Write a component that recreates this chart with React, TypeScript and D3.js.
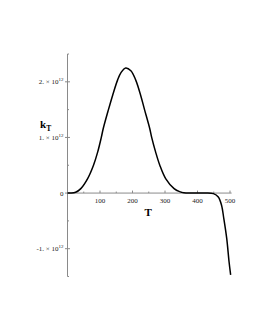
import React from "react";
import * as d3 from "d3";

const T_VALUES = [0, 10, 25, 41, 62, 80, 93, 104, 110, 126, 139, 154, 165, 179, 195, 210, 225, 237, 253, 259, 271, 284, 302, 328, 345, 358, 380, 420, 449, 464, 474, 481, 490, 497, 502];
const K_VALUES = [0, 0, 0.015, 0.08, 0.26, 0.5, 0.74, 1.0, 1.16, 1.5, 1.76, 2.03, 2.17, 2.25, 2.2, 2.03, 1.76, 1.5, 1.16, 1.0, 0.74, 0.5, 0.26, 0.08, 0.025, 0.005, 0, 0, -0.01, -0.07, -0.22, -0.46, -0.82, -1.23, -1.47];
const X_TICKS = [100, 200, 300, 400, 500];
const X_MINOR = [50, 150, 250, 350, 450];
const Y_TICKS = [2, 1, 0, -1];
const Y_LABELS = ["2. × 10", "1. × 10", "0", "-1. × 10"];
const Y_MINOR = [2.5, 1.5, 0.5, -0.5, -1.5];

export default function App() {
  const x = d3.scaleLinear().domain([0, 500]).range([67.5, 230]);
  const y = d3.scaleLinear().domain([-1.5, 2.5]).range([276.5, 54]);
  const line = d3
    .line<number>()
    .x((_, i) => x(T_VALUES[i]))
    .y((d) => y(d))
    .curve(d3.curveCatmullRom.alpha(0.5));
  const axisColor = "#8a8a8a";
  const font = "'Liberation Serif', 'DejaVu Serif', serif";
  return (
    <svg width={255} height={330} style={{ position: "absolute", left: 0, top: 0, background: "#fff" }}>
      {/* y axis */}
      <line x1={x(0)} x2={x(0)} y1={y(2.5)} y2={y(-1.5)} stroke={axisColor} strokeWidth={1} />
      {Y_TICKS.map((t) => (
        <line key={"yt" + t} x1={x(0) - 2.5} x2={x(0) + 2.5} y1={y(t)} y2={y(t)} stroke={axisColor} strokeWidth={1} />
      ))}
      {Y_MINOR.map((t) => (
        <line key={"ym" + t} x1={x(0)} x2={x(0) + 1.5} y1={y(t)} y2={y(t)} stroke={axisColor} strokeWidth={1} />
      ))}
      {Y_TICKS.map((t, i) => (
        <text key={"yl" + t} x={x(0) - 4} y={y(t) + 2.5} textAnchor="end" fontFamily={font} fontSize={7} fill="#222">
          {Y_LABELS[i]}
          {t !== 0 && (
            <tspan dy={-3} fontSize={5}>12</tspan>
          )}
        </text>
      ))}
      {/* x axis */}
      <line x1={x(0)} x2={x(505)} y1={y(0)} y2={y(0)} stroke={axisColor} strokeWidth={1} />
      {X_TICKS.map((t) => (
        <line key={"xt" + t} x1={x(t)} x2={x(t)} y1={y(0) - 2.5} y2={y(0)} stroke={axisColor} strokeWidth={1} />
      ))}
      {X_MINOR.map((t) => (
        <line key={"xm" + t} x1={x(t)} x2={x(t)} y1={y(0) - 1.5} y2={y(0)} stroke={axisColor} strokeWidth={1} />
      ))}
      {X_TICKS.map((t) => (
        <text key={"xl" + t} x={x(t)} y={y(0) + 10} textAnchor="middle" fontFamily={font} fontSize={7} fill="#222">
          {t}
        </text>
      ))}
      {/* curve */}
      <path d={line(K_VALUES) || ""} fill="none" stroke="#000" strokeWidth={1.5} />
      {/* axis titles */}
      <text x={x(248)} y={y(0) + 23} textAnchor="middle" fontFamily={font} fontSize={11} fontWeight="bold" fill="#000">
        T
      </text>
      <text x={40} y={128} fontFamily={font} fontSize={11} fontWeight="bold" fill="#000">
        k<tspan dy={3} fontSize={7.5}>T</tspan>
      </text>
    </svg>
  );
}
